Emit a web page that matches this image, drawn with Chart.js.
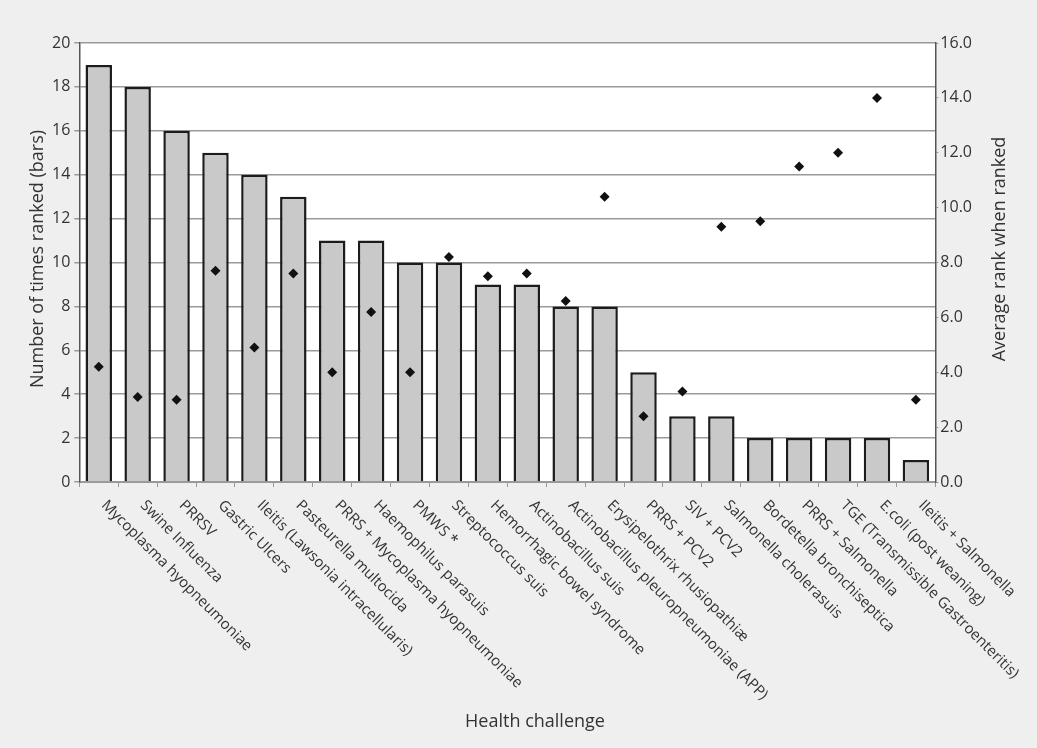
<!DOCTYPE html>
<html>
<head>
<meta charset="utf-8">
<title>Health challenge ranking</title>
<style>
	body { margin: 0; background: #efefef; }
	canvas { display: block; }
</style>
</head>
<body>

<canvas id="rankChart" width="1037" height="748"></canvas>

<script src="https://cdn.jsdelivr.net/npm/chart.js@4/dist/chart.umd.min.js"></script>

<script>
	const categories = [
		"Mycoplasma hyopneumoniae", "Swine Influenza", "PRRSV", "Gastric Ulcers",
		"Ileitis (Lawsonia intracellularis)", "Pasteurella multocida",
		"PRRS + Mycoplasma hyopneumoniae", "Haemophilus parasuis", "PMWS *",
		"Streptococcus suis", "Hemorrhagic bowel syndrome", "Actinobacillus suis",
		"Actinobacillus pleuropneumoniae (APP)", "Erysipelothrix rhusiopathiæ",
		"PRRS + PCV2", "SIV + PCV2", "Salmonella cholerasuis", "Bordetella bronchiseptica",
		"PRRS + Salmonella", "TGE (Transmissible Gastroenteritis)", "E.coli (post weaning)",
		"Ileitis + Salmonella"
	]
	const timesRanked = [19, 18, 16, 15, 14, 13, 11, 11, 10, 10, 9, 9, 8, 8, 5, 3, 3, 2, 2, 2, 2, 1]
	const avgRank = [4.2, 3.1, 3.0, 7.7, 4.9, 7.6, 4.0, 6.2, 4.0, 8.2, 7.5, 7.6, 6.6, 10.4, 2.4, 3.3, 9.3, 9.5, 11.5, 12.0, 14.0, 3.0]

	const leftTitle = "Number of times ranked (bars)"
	const rightTitle = "Average rank when ranked"
	const bottomTitle = "Health challenge"

	const FONT = '"Open Sans", "DejaVu Sans", sans-serif'
	const TEXT = "#333333"

	// white plot area on the grey page
	const plotBg = {
		id: "plotBg",
		beforeDraw(chart) {
			const a = chart.chartArea, ctx = chart.ctx
			ctx.save()
			ctx.fillStyle = "#ffffff"
			ctx.fillRect(a.left, a.top, a.right - a.left, a.bottom - a.top)
			ctx.restore()
		}
	}

	// Chart.js can't rotate x labels clockwise from the tick, so draw them here
	const extraText = {
		id: "extraText",
		afterDraw(chart) {
			const ctx = chart.ctx, xs = chart.scales.x, a = chart.chartArea
			ctx.save()
			ctx.fillStyle = TEXT
			ctx.font = "15px " + FONT
			ctx.textAlign = "left"
			ctx.textBaseline = "middle"
			categories.forEach((c, i) => {
				ctx.save()
				ctx.translate(xs.getPixelForValue(i) + 5, a.bottom + 21)
				ctx.rotate(Math.PI / 4)
				ctx.fillText(c, 0, 0)
				ctx.restore()
			})

			ctx.font = "18px " + FONT
			ctx.textAlign = "center"
			ctx.fillText(bottomTitle, 535, 722)

			ctx.save()
			ctx.translate(1000, 249)
			ctx.rotate(-Math.PI / 2)
			ctx.fillText(rightTitle, 0, 0)
			ctx.restore()

			ctx.save()
			ctx.translate(38, 259)
			ctx.rotate(-Math.PI / 2)
			ctx.fillText(leftTitle, 0, 0)
			ctx.restore()
			ctx.restore()
		}
	}

	const ctx = document.getElementById("rankChart")
	const chart = new Chart(ctx, {
		type: "bar",
		data: {
			labels: categories,
			datasets: [{
				type: "line",
				label: "Average rank",
				data: avgRank,
				yAxisID: "y1",
				showLine: false,
				pointStyle: "rectRot",
				pointRadius: 5,
				pointBackgroundColor: "#111111",
				pointBorderColor: "#111111",
				pointBorderWidth: 0,
				order: 0
			}, {
				label: "Times ranked",
				data: timesRanked,
				yAxisID: "y",
				backgroundColor: "#c9c9c9",
				borderColor: "#1c1c1c",
				borderWidth: 2.5,
				borderSkipped: "bottom",
				categoryPercentage: 1,
				barPercentage: 0.68,
				order: 1
			}]
		},
		options: {
			responsive: false,
			animation: false,
			layout: { padding: { left: 48, right: 63, top: 43, bottom: 261 } },
			plugins: {
				legend: { display: false },
				tooltip: { enabled: false }
			},
			scales: {
				x: {
					offset: true,
					ticks: { display: false },
					grid: { offset: true, drawOnChartArea: false, tickLength: 5, color: "#999999" },
					border: { color: "#999999", width: 1 }
				},
				y: {
					position: "left",
					min: 0, max: 20,
					ticks: { stepSize: 2, color: TEXT, font: { family: FONT, size: 16 }, padding: 4 },
					grid: { color: "#9a9a9a", lineWidth: 1.5, tickLength: 5 },
					border: { color: "#555555", width: 1.5 }
				},
				y1: {
					position: "right",
					min: 0, max: 16,
					ticks: { stepSize: 2, color: TEXT, font: { family: FONT, size: 16 }, padding: 2,
						callback: (v) => v.toFixed(1) },
					grid: { drawOnChartArea: false, color: "#999999", tickLength: 3 },
					border: { color: "#555555", width: 1.5 }
				}
			}
		},
		plugins: [plotBg, extraText]
	})
</script>
</body>
</html>
